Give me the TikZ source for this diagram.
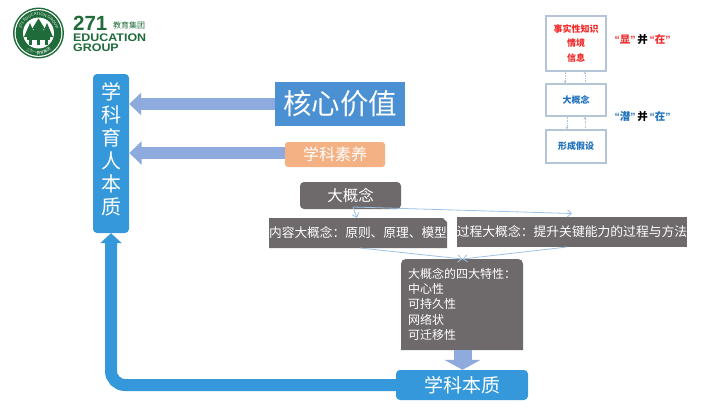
\documentclass[tikz,border=0pt]{standalone}
\usepackage{fontspec}
\setmainfont{Noto Sans CJK SC}
\newfontfamily\latinb{Liberation Sans}
\newfontfamily\latinw[FakeStretch=1.13]{Liberation Sans}
\usetikzlibrary{arrows.meta,decorations.text}
\definecolor{blueA}{HTML}{3498DB}
\definecolor{blueB}{HTML}{4A90D2}
\definecolor{arrowC}{HTML}{8FAADC}
\definecolor{peach}{HTML}{F4B183}
\definecolor{slate}{HTML}{6E6A6B}
\definecolor{thinB}{HTML}{9CC3E6}
\definecolor{frameC}{HTML}{B4C5D8}
\definecolor{logoG}{HTML}{1F6B3A}
\definecolor{redT}{HTML}{F02A2A}
\definecolor{blueT}{HTML}{1F72BC}
\newcommand{\myopenq}{{\latinb “}}
\newcommand{\mycloseq}{{\latinb ”}}
\newcommand{\dropt}[2]{\raisebox{-#1}{#2}}
\tikzset{
  box/.style={inner sep=0pt,align=center,text=white,anchor=center},
  thin link/.style={draw=thinB,line width=0.8pt,-{Straight Barb[length=4pt,width=7pt]}},
  small link/.style={draw=frameC,line width=0.6pt,densely dotted,-{Stealth[length=3pt,width=3pt]}},
  frame box/.style={draw=frameC,line width=1.1pt,fill=white,minimum width=60pt,inner sep=0pt,align=center,font=\bfseries\fontsize{9}{14.5}\selectfont},
  tag/.style={inner sep=0pt,font=\bfseries\fontsize{10.5}{12}\selectfont,anchor=center},
  logotext/.style={inner sep=0pt,anchor=base west,text=logoG},
}
\begin{document}
\begin{tikzpicture}[x=1pt,y=-1pt]
\useasboundingbox (0,0) rectangle (720,408);
\fill[white] (0,0) rectangle (720,408);

% logo
\fill[logoG] (38.5,33) circle (25.5);
\fill[white] (38.5,33) circle (24);
\fill[logoG] (38.5,33) circle (22.8);
\fill[white] (38.5,33) circle (15.5);
\begin{scope}[shift={(38.5,33)},y=1pt]
\path[postaction={decorate,decoration={text along path,text align=center,
  text={|\latinb\fontsize{4}{4}\selectfont\color{white}|271 EDUCATION GROUP}}}]
  (200:17.6) arc[start angle=200,end angle=-20,radius=17.6];
\path[postaction={decorate,decoration={text along path,text align=center,
  text={|\fontsize{3.8}{4}\selectfont\color{white}|二七一教育集团}}}]
  (215:21) arc[start angle=215,end angle=325,radius=21];
\end{scope}
\fill[logoG] (38.5,18.5) -- (45,29) -- (43,29) -- (47,37) -- (30,37) -- (34,29) -- (32,29) -- cycle;
\fill[logoG] (30,23) -- (36,37) -- (24,37) -- cycle;
\fill[logoG] (47,23) -- (53,37) -- (41,37) -- cycle;
\fill[logoG] (27,37) rectangle (50,40);
\fill[logoG] (29,40) rectangle (32,45);
\fill[logoG] (37,40) rectangle (40,45);
\fill[logoG] (45,40) rectangle (48,45);
\node[logotext] (l271) at (73,30) {\latinb\bfseries\fontsize{20.5}{20}\selectfont 271};
\node[logotext] (lcn) at (113,28.5) {\fontsize{8}{8}\selectfont 教育集团};
\node[logotext] (ledu) at (73,41) {\latinw\bfseries\fontsize{11}{11}\selectfont EDUCATION};
\node[logotext] (lgrp) at (73,51) {\latinw\bfseries\fontsize{11}{11}\selectfont GROUP};

% main nodes
\node[box,fill=blueA,rounded corners=4pt,minimum width=36pt,minimum height=159pt,font=\fontsize{20}{23}\selectfont] (yuren) at (111,153.5) {学\\科\\育\\人\\本\\质\\[-13pt]\mbox{}};
\node[box,fill=blueB,minimum width=130pt,minimum height=44pt,font=\fontsize{28.5}{30}\selectfont] (hexin) at (340,104) {\dropt{2pt}{核心价值}};
\node[box,fill=peach,rounded corners=3pt,minimum width=100pt,minimum height=25pt,font=\fontsize{16}{18}\selectfont] (suyang) at (335,154.5) {\dropt{1.5pt}{学科素养}};
\node[box,fill=slate,rounded corners=4pt,minimum width=101pt,minimum height=27pt,font=\fontsize{15.5}{17}\selectfont] (dgn) at (350.5,195.5) {\dropt{2pt}{大概念}};
\fill[slate] (269,218) -- (443,218) -- (447,222) -- (447,248) -- (269,248) -- cycle;
\node[box,font=\fontsize{12.7}{15}\selectfont] (neirong) at (358,233) {内容大概念：原则、原理、模型};
\node[box,fill=slate,minimum width=230pt,minimum height=30pt,font=\fontsize{12.8}{15}\selectfont] (guocheng) at (572,232) {过程大概念：提升关键能力的过程与方法};
\fill[slate] (401,350) -- (401,264) .. controls (401,261) and (403,259) .. (406,259) -- (518,259) .. controls (521,259) and (523,261) .. (523,264) -- (523,350) -- cycle;
\node[inner sep=0pt,anchor=north west,align=left,text=white,font=\fontsize{12}{15.2}\selectfont] (tezheng) at (408,268) {大概念的四大特性：\\中心性\\可持久性\\网络状\\可迁移性};
\coordinate (tzTop) at (462.5,259);
\coordinate (tzBot) at (462.5,350);
\node[box,fill=blueA,rounded corners=4pt,minimum width=132pt,minimum height=30pt,font=\fontsize{19}{21}\selectfont] (benzhi) at (462,385) {\dropt{1.5pt}{学科本质}};

% block arrows
\draw[arrowC,line width=12pt,-{Triangle[length=12pt,width=22pt]}] (hexin.west |- 0,104) -- (yuren.east |- 0,104);
\draw[arrowC,line width=12pt,-{Triangle[length=12.5pt,width=23pt]}] (suyang.west |- 0,153) -- (yuren.east |- 0,153);
\draw[arrowC,line width=18pt,-{Triangle[length=10pt,width=36pt]}] (tzBot) -- (tzBot |- benzhi.north);
\draw[blueA,line width=12pt,rounded corners=14pt,-{Triangle[length=10pt,width=21pt]}] (benzhi.west) -- (yuren.south |- benzhi.west) -- (yuren.south);

% thin links
\coordinate (dgnA) at (353,207);
\coordinate (gcTop) at (572,213.5);
\coordinate (nrTop) at (357,218);
\coordinate (nrBot) at (360,248);
\coordinate (gcBot) at (567,247);
\draw[thin link] (dgnA) -- (nrTop);
\draw[thin link] (dgnA) -- (gcTop);
\draw[thin link] (nrBot) -- (tzTop);
\draw[thin link] (gcBot) -- (tzTop);

% right panel
\node[frame box,minimum height=55pt,text=redT] (shishi) at (576,43.5) {事实性知识\\情境\\信息};
\node[frame box,minimum height=32pt,text=blueT] (dagai) at (576,100) {大概念};
\node[frame box,minimum height=33pt,text=blueT] (xingcheng) at (576,146.5) {形成假设};
\draw[small link] (shishi.south -| 565,0) -- (dagai.north -| 565,0);
\draw[small link] (dagai.north -| 585,0) -- (shishi.south -| 585,0);
\draw[small link] (dagai.south -| 567,0) -- (xingcheng.north -| 567,0);
\draw[small link] (xingcheng.north -| 585,0) -- (dagai.south -| 585,0);
\node[tag] (tag1) at (642.5,39.5) {\textcolor{redT}{\myopenq 显\mycloseq}\,并\,\textcolor{redT}{\myopenq 在\mycloseq}};
\node[tag] (tag2) at (642.5,116.5) {\textcolor{blueT}{\myopenq 潜\mycloseq}\,并\,\textcolor{blueT}{\myopenq 在\mycloseq}};
\end{tikzpicture}
\end{document}
